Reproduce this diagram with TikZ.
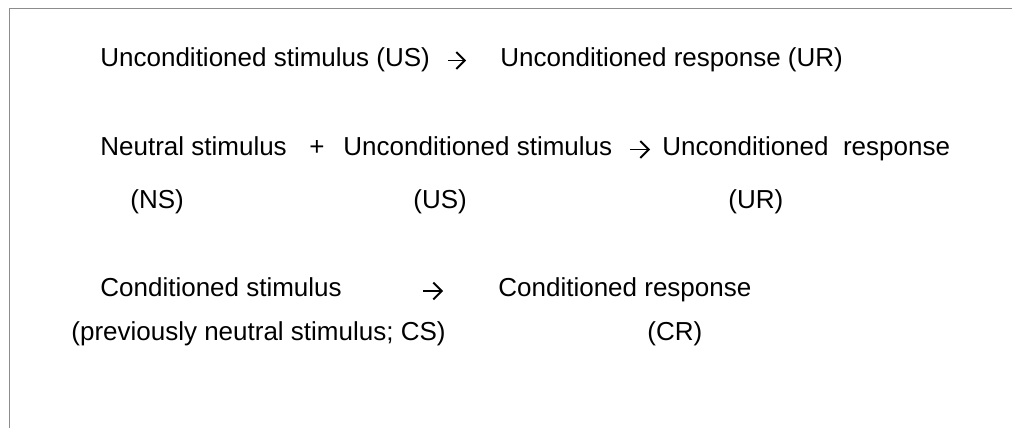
\documentclass[tikz,border=0pt]{standalone}
\usepackage{fontspec}
\setmainfont{Liberation Sans}
\usetikzlibrary{arrows.meta}
\begin{document}
\begin{tikzpicture}[x=0.5pt, y=-0.5pt,
  txt/.style={anchor=base west, inner sep=0pt, font=\fontsize{13pt}{15pt}\selectfont},
  sym/.style={anchor=base, inner sep=0pt, font=\fontsize{13pt}{15pt}\selectfont},
  leadsto/.style={line width=0.9pt, -{Straight Barb[length=4.2pt, width=8.4pt]}}]
\useasboundingbox (0,0) rectangle (1012,428);
\draw [gray!90, line width=0.5pt] (1012,8.5) -- (9,8.5) -- (9,428);
% first line
\node [txt] (us1) at (100,66) {Unconditioned stimulus (US)};
\coordinate (a1s) at (448,60.5);
\coordinate (a1e) at (466,60.5);
\node [txt] (ur1) at (500,66) {Unconditioned response (UR)};
\draw [leadsto] (a1s) -- (a1e);
% second line
\node [txt] (ns) at (100,155) {Neutral stimulus};
\node [sym] (plus) at (317,155) {+};
\node [txt] (us2) at (343,155) {Unconditioned stimulus};
\coordinate (a2s) at (630,149.5);
\coordinate (a2e) at (650,149.5);
\node [txt] (ur2) at (662,155) {Unconditioned\ \ response};
\draw [leadsto] (a2s) -- (a2e);
\node [txt] (nsab) at (130,208) {(NS)};
\node [txt] (usab) at (413,208) {(US)};
\node [txt] (urab) at (728,208) {(UR)};
% third line
\node [txt] (cs) at (100,296) {Conditioned stimulus};
\coordinate (a3s) at (423,291);
\coordinate (a3e) at (443,291);
\node [txt] (cr) at (498,296) {Conditioned response};
\draw [leadsto] (a3s) -- (a3e);
\node [txt] (csab) at (71,340) {(previously neutral stimulus; CS)};
\node [txt] (crab) at (647,340) {(CR)};
\end{tikzpicture}
\end{document}
